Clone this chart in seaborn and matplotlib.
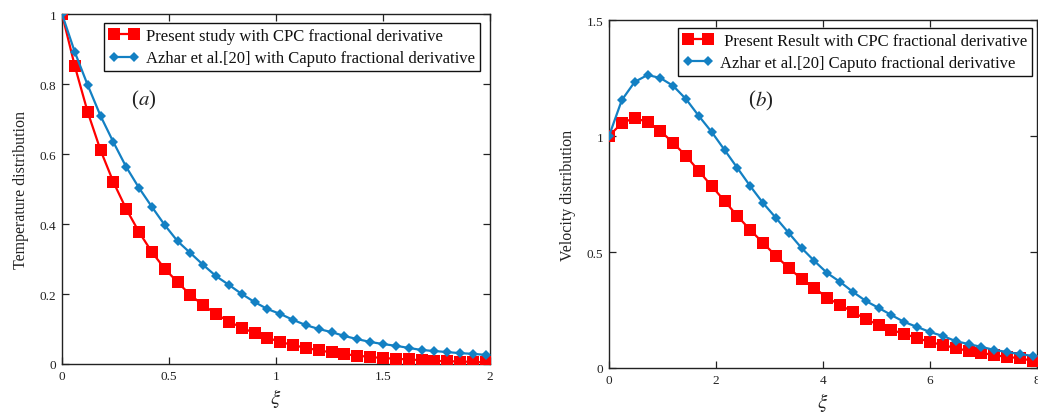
import numpy as np
import pandas as pd
import matplotlib
matplotlib.use("Agg")
import matplotlib.pyplot as plt
from matplotlib.ticker import FuncFormatter
import seaborn as sns

# ---------------- data ----------------
xi_a = [0.00, 0.06, 0.12, 0.18, 0.24, 0.30, 0.36, 0.42, 0.48, 0.54,
        0.60, 0.66, 0.72, 0.78, 0.84, 0.90, 0.96, 1.02, 1.08, 1.14,
        1.20, 1.26, 1.32, 1.38, 1.44, 1.50, 1.56, 1.62, 1.68, 1.74,
        1.80, 1.86, 1.92, 1.98]
temp_cpc = [1.000, 0.851, 0.720, 0.611, 0.520, 0.443, 0.377, 0.320, 0.272, 0.234,
            0.197, 0.168, 0.143, 0.121, 0.104, 0.088, 0.075, 0.063, 0.054, 0.046,
            0.039, 0.033, 0.028, 0.024, 0.020, 0.017, 0.015, 0.013, 0.011, 0.009,
            0.008, 0.007, 0.006, 0.005]
temp_caputo = [1.000, 0.891, 0.797, 0.709, 0.634, 0.563, 0.503, 0.449, 0.397, 0.351,
               0.317, 0.283, 0.251, 0.226, 0.200, 0.177, 0.157, 0.143, 0.126, 0.111,
               0.100, 0.091, 0.080, 0.071, 0.063, 0.057, 0.052, 0.046, 0.040, 0.037,
               0.034, 0.031, 0.029, 0.026]

xi_b = [0.00, 0.24, 0.48, 0.72, 0.96, 1.20, 1.44, 1.68, 1.92, 2.16,
        2.40, 2.64, 2.88, 3.12, 3.36, 3.60, 3.84, 4.08, 4.32, 4.56,
        4.80, 5.04, 5.28, 5.52, 5.76, 6.00, 6.24, 6.48, 6.72, 6.96,
        7.20, 7.44, 7.68, 7.92]
vel_cpc = [1.000, 1.056, 1.078, 1.060, 1.022, 0.970, 0.914, 0.849, 0.784, 0.720,
           0.655, 0.595, 0.539, 0.483, 0.431, 0.384, 0.345, 0.302, 0.272, 0.241,
           0.211, 0.185, 0.164, 0.147, 0.129, 0.112, 0.099, 0.086, 0.073, 0.065,
           0.056, 0.047, 0.043, 0.030]
vel_caputo = [1.000, 1.155, 1.233, 1.263, 1.250, 1.216, 1.159, 1.086, 1.017, 0.940,
              0.862, 0.784, 0.711, 0.647, 0.582, 0.517, 0.461, 0.409, 0.371, 0.328,
              0.289, 0.259, 0.228, 0.198, 0.177, 0.155, 0.138, 0.116, 0.103, 0.091,
              0.078, 0.069, 0.060, 0.052]

labels_a = ["Present study with CPC fractional derivative",
            "Azhar et al.[20] with Caputo fractional derivative"]
labels_b = [" Present Result with CPC fractional derivative",
            "Azhar et al.[20] Caputo fractional derivative"]
xticks_a = [0, 0.5, 1, 1.5, 2]
yticks_a = [0, 0.2, 0.4, 0.6, 0.8, 1]
xticks_b = [0, 2, 4, 6, 8]
yticks_b = [0, 0.5, 1, 1.5]

# ---------------- style ----------------
sns.set_theme(style="ticks")
plt.rcParams["font.family"] = ["Liberation Serif", "DejaVu Serif"]
plt.rcParams["mathtext.fontset"] = "stix"
RED = "#ff0000"
BLUE = "#1380c3"
INK = "#222222"

fig = plt.figure(figsize=(10.38, 4.14), dpi=100)
ax1 = fig.add_axes([62 / 1038, 1 - 365 / 414, 428 / 1038, 350 / 414])
ax2 = fig.add_axes([609 / 1038, 1 - 369 / 414, 428 / 1038, 348 / 414])

fmt = FuncFormatter(lambda v, p: "%g" % v)


def draw(ax, x, y1, y2, labels):
    df1 = pd.DataFrame({"xi": x, "val": y1})
    df2 = pd.DataFrame({"xi": x, "val": y2})
    sns.lineplot(data=df1, x="xi", y="val", ax=ax, color=RED, marker="s",
                 markersize=8, markeredgewidth=0, linewidth=1.6,
                 label=labels[0], zorder=3)
    sns.lineplot(data=df2, x="xi", y="val", ax=ax, color=BLUE, marker="D",
                 markersize=5.4, markeredgewidth=0, linewidth=1.6,
                 label=labels[1], zorder=4)


draw(ax1, xi_a, temp_cpc, temp_caputo, labels_a)
draw(ax2, xi_b, vel_cpc, vel_caputo, labels_b)

for ax, xt, yt, xl, yl in [(ax1, xticks_a, yticks_a, (0, 2), (0, 1)),
                           (ax2, xticks_b, yticks_b, (0, 8), (0, 1.5))]:
    ax.set_xlim(*xl)
    ax.set_ylim(*yl)
    ax.set_xticks(xt)
    ax.set_yticks(yt)
    ax.xaxis.set_major_formatter(fmt)
    ax.yaxis.set_major_formatter(fmt)
    ax.tick_params(direction="in", top=True, right=True, length=5, width=0.9,
                   colors=INK, labelsize=9.5, pad=4)
    for s in ax.spines.values():
        s.set_visible(True)
        s.set_color(INK)
        s.set_linewidth(1.0)
    ax.set_xlabel(r"$\xi$", fontsize=15, color=INK, labelpad=3)

ax1.set_ylabel("Temperature distribution", fontsize=11.5, color=INK, labelpad=8)
ax2.set_ylabel("Velocity distribution", fontsize=11.5, color=INK, labelpad=8)

ax1.text(0.355, 0.755, "(", fontsize=15, color=INK, ha="right", va="center")
ax1.text(0.355, 0.755, r"$a$)", fontsize=15, color=INK, ha="left", va="center")
ax2.text(2.73, 1.155, "(", fontsize=15, color=INK, ha="right", va="center")
ax2.text(2.73, 1.155, r"$b$)", fontsize=15, color=INK, ha="left", va="center")

for ax, anchor in [(ax1, (0.977, 0.975)), (ax2, (0.988, 0.978))]:
    leg = ax.legend(loc="upper right", bbox_to_anchor=anchor, borderaxespad=0,
                    fontsize=12, frameon=True, fancybox=False, framealpha=1,
                    edgecolor="#111111", handlelength=1.8, handletextpad=0.4,
                    numpoints=2, borderpad=0.3, labelspacing=0.4)
    leg.get_frame().set_linewidth(1.0)
    for t in leg.get_texts():
        t.set_color("#111111")

fig.savefig("out.png", dpi=100)
